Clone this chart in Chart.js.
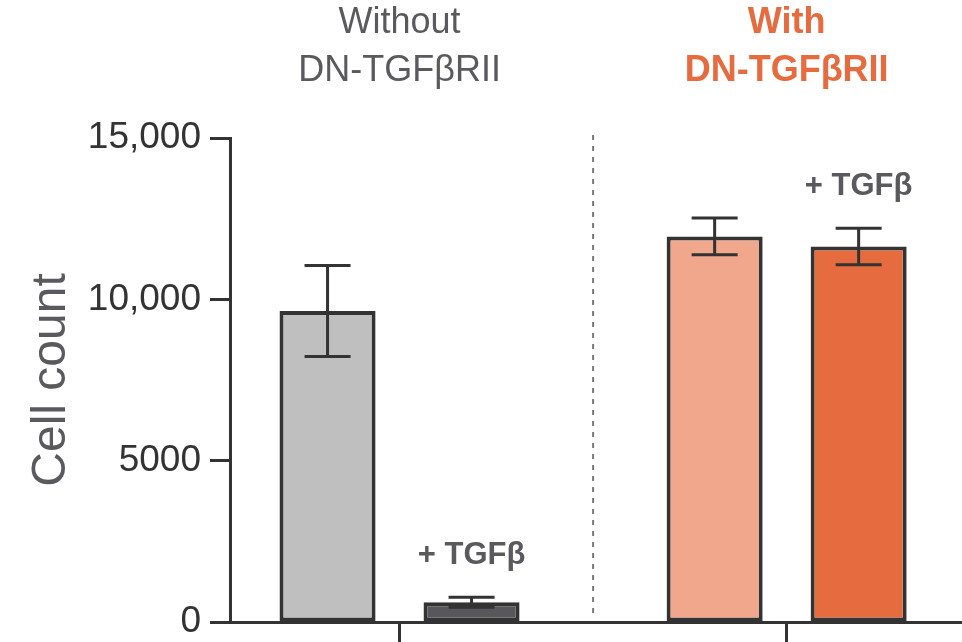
<!DOCTYPE html>
<html lang="en">
<head>
  <meta charset="UTF-8">
  <title>Cell count with and without DN-TGFβRII</title>
  <script src="https://cdn.jsdelivr.net/npm/chart.js"></script>
  <style>
    body { margin: 0; background: #fff; }
    #wrap { width: 962px; height: 642px; }
  </style>
</head>
<body>
  <div id="wrap"><canvas id="cellChart"></canvas></div>

  <script>
    // groups along x, two bars in each (control, + TGFβ)
    const groups = [['Without', 'DN-TGFβRII'], ['With', 'DN-TGFβRII']];
    const controlMeans = [9640, 11950];
    const controlErrors = [1410, 570];
    const tgfMeans = [612, 11640];
    const tgfErrors = [155, 565];
    const tgfLabel = '+ TGFβ';
    const yTicks = [0, 5000, 10000, 15000];

    const dark = '#333333';
    const grey = '#5a5a5e';
    const orange = '#e66c40';
    Chart.defaults.font.family = "'Liberation Sans', Arial, sans-serif";

    const errors = [controlErrors, tgfErrors];

    const overlay = {
      id: 'overlay',
      afterDatasetsDraw(chart) {
        const ctx = chart.ctx;
        const x = chart.scales.x;
        const y = chart.scales.y;
        const area = chart.chartArea;

        // dashed divider between the two groups
        ctx.save();
        ctx.strokeStyle = '#7a7a7a';
        ctx.lineWidth = 2;
        ctx.setLineDash([5, 6]);
        const xm = x.getPixelForValue(0.5);
        ctx.beginPath();
        ctx.moveTo(xm, area.top - 3);
        ctx.lineTo(xm, area.bottom - 3);
        ctx.stroke();
        ctx.restore();

        // error bars
        chart.data.datasets.forEach((ds, d) => {
          const meta = chart.getDatasetMeta(d);
          meta.data.forEach((bar, i) => {
            const m = ds.data[i].y;
            const e = errors[d][i];
            const top = y.getPixelForValue(m + e);
            const bot = y.getPixelForValue(m - e);
            ctx.save();
            ctx.strokeStyle = dark;
            ctx.lineWidth = 3;
            ctx.beginPath();
            ctx.moveTo(bar.x, top); ctx.lineTo(bar.x, bot);
            ctx.moveTo(bar.x - 23, top); ctx.lineTo(bar.x + 23, top);
            ctx.moveTo(bar.x - 23, bot); ctx.lineTo(bar.x + 23, bot);
            ctx.stroke();
            ctx.restore();

            if (d === 1) {
              ctx.save();
              ctx.fillStyle = grey;
              ctx.font = "bold 31px 'Liberation Sans', Arial, sans-serif";
              ctx.textAlign = 'center';
              ctx.textBaseline = 'middle';
              ctx.fillText(tgfLabel, bar.x, top - 42);
              ctx.restore();
            }
          });
        });

        // group headings
        groups.forEach((lines, i) => {
          const cx = x.getPixelForValue(i);
          ctx.save();
          ctx.textAlign = 'center';
          ctx.textBaseline = 'middle';
          ctx.fillStyle = i === 0 ? grey : orange;
          ctx.font = (i === 0 ? '' : 'bold ') + "36px 'Liberation Sans', Arial, sans-serif";
          lines.forEach((t, k) => ctx.fillText(t, cx, 23 + k * 48));
          ctx.restore();
        });
      }
    };

    new Chart(document.getElementById('cellChart'), {
      type: 'bar',
      data: {
        datasets: [{
          label: 'Control',
          data: controlMeans.map((v, i) => ({ x: i, y: v })),
          backgroundColor: ['#bfbfbf', '#f0a78b'],
          borderColor: dark,
          borderWidth: 4,
          borderSkipped: false
        }, {
          label: tgfLabel,
          data: tgfMeans.map((v, i) => ({ x: i, y: v })),
          backgroundColor: ['#58585c', '#e66c40'],
          borderColor: dark,
          borderWidth: 4,
          borderSkipped: false
        }]
      },
      options: {
        responsive: true,
        maintainAspectRatio: false,
        animation: false,
        categoryPercentage: 0.744,
        barPercentage: 0.667,
        layout: { padding: { top: 138, left: 0, right: 0, bottom: 0 } },
        plugins: { legend: { display: false }, tooltip: { enabled: false } },
        scales: {
          x: {
            type: 'linear',
            offset: false,
            min: -0.438,
            max: 1.453,
            afterBuildTicks: (s) => { s.ticks = groups.map((g, i) => ({ value: i })); },
            afterFit: (s) => { s.height = 20; },
            ticks: { display: false },
            grid: { offset: false, drawOnChartArea: false, tickLength: 20, tickWidth: 3, tickColor: dark },
            border: { color: dark, width: 3 }
          },
          y: {
            min: 0,
            max: 15000,
            afterBuildTicks: (s) => { s.ticks = yTicks.map(v => ({ value: v })); },
            afterFit: (s) => { s.width = 230; s.paddingTop = 0; s.paddingBottom = 0; },
            ticks: {
              color: dark,
              padding: 9,
              font: { size: 37, lineHeight: 1 },
              callback: (v) => v >= 10000 ? v.toLocaleString('en-US') : String(v)
            },
            grid: { drawOnChartArea: false, tickLength: 20, tickWidth: 3, tickColor: dark },
            border: { color: dark, width: 3 },
            title: {
              display: true,
              text: 'Cell count',
              color: grey,
              font: { size: 48 },
              padding: { top: 23, bottom: 0 }
            }
          }
        }
      },
      plugins: [overlay]
    });
  </script>
</body>
</html>
